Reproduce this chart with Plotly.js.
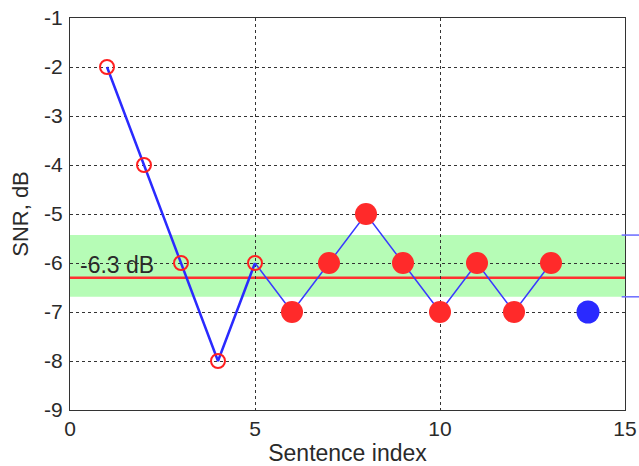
<!DOCTYPE html>
<html>
<head>
<meta charset="utf-8">
<script src="https://cdn.plot.ly/plotly-3.0.1.min.js"></script>
<style>html,body{margin:0;padding:0;background:#fff;}#chart{width:639px;height:466px;}</style>
</head>
<body>
<div id="chart"></div>
<script>
// Data
const sentenceIdx = [1, 2, 3, 4, 5, 6, 7, 8, 9, 10, 11, 12, 13];
const snrValues   = [-2, -4, -6, -8, -6, -7, -6, -5, -6, -7, -6, -7, -6];
const openIdx = [1, 2, 3, 4, 5];
const openSnr = [-2, -4, -6, -8, -6];
const filledIdx = [6, 7, 8, 9, 10, 11, 12, 13];
const filledSnr = [-7, -6, -5, -6, -7, -6, -7, -6];
const finalIdx = [14];
const finalSnr = [-7];
const meanSnr = -6.3;
const bandLow = -6.69;
const bandHigh = -5.43;
const meanLabel = "-6.3 dB";
const xTicks = [0, 5, 10, 15];
const xTickText = ["0", "5", "10", "15"];
const yTicks = [-9, -8, -7, -6, -5, -4, -3, -2, -1];
const yTickText = ["-9", "-8", "-7", "-6", "-5", "-4", "-3", "-2", "-1"];

const font = {family: "Liberation Sans, Arial, sans-serif", color: "#2a2a2a"};

const traces = [
  {x: openIdx, y: openSnr, mode: "lines", line: {color: "#2a2aff", width: 2.5}, hoverinfo: "skip"},
  {x: sentenceIdx.slice(4), y: snrValues.slice(4), mode: "lines", line: {color: "#3a3aff", width: 1.5}, hoverinfo: "skip"},
  {x: openIdx, y: openSnr, mode: "markers",
   marker: {symbol: "circle-open", size: 14, color: "#ff2020", line: {width: 2, color: "#ff2020"}}},
  {x: filledIdx, y: filledSnr, mode: "markers",
   marker: {symbol: "circle", size: 22, color: "#ff2a2a", line: {width: 0}}},
  {x: finalIdx, y: finalSnr, mode: "markers",
   marker: {symbol: "circle", size: 23, color: "#2a2aff", line: {width: 0}}}
];

const layout = {
  width: 639, height: 466,
  margin: {l: 70, r: 14, t: 18, b: 56},
  paper_bgcolor: "#fff", plot_bgcolor: "#fff",
  showlegend: false,
  font: Object.assign({size: 21}, font),
  xaxis: {
    range: [0, 15], tickvals: xTicks, ticktext: xTickText,
    showgrid: true, gridcolor: "#333", gridwidth: 1, griddash: "3px,3px",
    zeroline: false, showline: true, linecolor: "#333", linewidth: 1, mirror: true,
    ticks: "", tickfont: {size: 21},
    title: {text: "Sentence index", font: {size: 23}, standoff: 6}
  },
  yaxis: {
    range: [-9, -1], tickvals: yTicks, ticktext: yTickText,
    showgrid: true, gridcolor: "#333", gridwidth: 1, griddash: "3px,3px",
    zeroline: false, showline: true, linecolor: "#333", linewidth: 1, mirror: true,
    ticks: "", tickfont: {size: 21}, ticklabelstandoff: 2,
    title: {text: "SNR, dB", font: {size: 22}, standoff: 9}
  },
  shapes: [
    {type: "rect", xref: "paper", yref: "y", x0: 0, x1: 1, y0: bandLow, y1: bandHigh,
     fillcolor: "#b6fcb6", line: {width: 0}, layer: "between"},
    {type: "line", xref: "paper", yref: "y", x0: 0, x1: 1, y0: meanSnr, y1: meanSnr,
     line: {color: "#ff3030", width: 2.5}, layer: "between"},
    {type: "line", xref: "paper", yref: "y", x0: 0.994, x1: 1.03, y0: bandHigh, y1: bandHigh,
     line: {color: "#6a6aff", width: 1.5}},
    {type: "line", xref: "paper", yref: "y", x0: 0.994, x1: 1.03, y0: bandLow, y1: bandLow,
     line: {color: "#6a6aff", width: 1.5}}
  ],
  annotations: [
    {x: 0.22, y: -6.05, xref: "x", yref: "y", text: meanLabel, showarrow: false,
     xanchor: "left", yanchor: "middle", font: {size: 23, color: "#2a2a2a"}}
  ]
};

Plotly.newPlot("chart", traces, layout, {displayModeBar: false, staticPlot: true});
</script>
</body>
</html>
